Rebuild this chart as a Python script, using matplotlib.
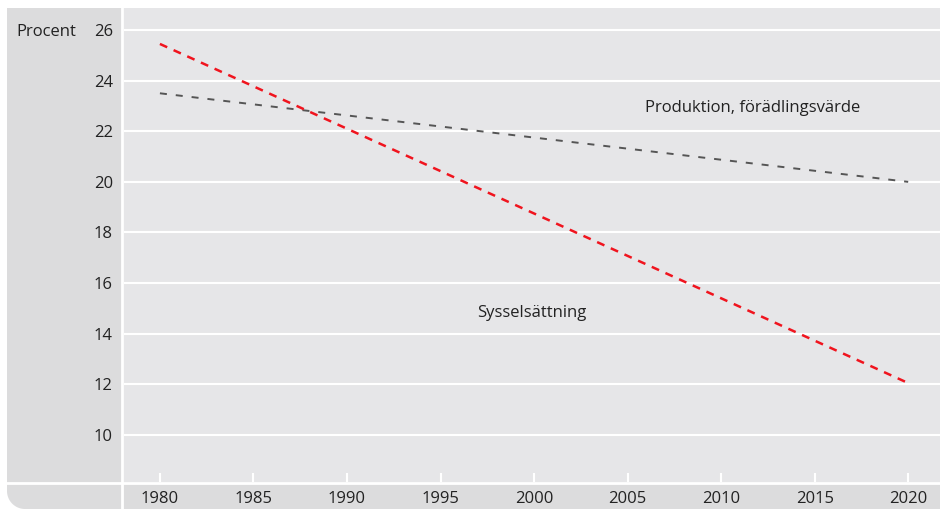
import numpy as np
import matplotlib.pyplot as plt
from matplotlib.patches import PathPatch
from matplotlib.path import Path
from matplotlib.lines import Line2D

plt.rcParams['font.family'] = ['Open Sans', 'DejaVu Sans']

years = [1980, 2020]
syssel = [25.45, 12.05]
produktion = [23.5, 20.0]
xticks = [1980, 1985, 1990, 1995, 2000, 2005, 2010, 2015, 2020]
yticks = [10, 12, 14, 16, 18, 20, 22, 24, 26]

W, H = 940, 509
fig = plt.figure(figsize=(W / 100, H / 100), dpi=100)

def fx(px):
    return px / W

def fy(py):
    return 1 - py / H

dark = '#dcdcdd'
light = '#e6e6e8'
txt = '#222222'

# background panel with rounded bottom-left corner (pixel coords, origin bottom-left)
r = 18
ang = np.linspace(np.pi, 1.5 * np.pi, 20)
corner = np.column_stack([7 + r + r * np.cos(ang), r + r * np.sin(ang)])
pts = np.vstack([[[7, H - 8]], corner, [[W + 5, 0], [W + 5, H - 8], [7, H - 8]]])
fig.patches.append(PathPatch(Path(pts), transform=None, facecolor=dark,
                             edgecolor='none', zorder=-2))

ax = fig.add_axes([fx(124), fy(482), fx(940 - 124), (482 - 8) / H])
ax.set_facecolor(light)
for s in ax.spines.values():
    s.set_visible(False)

ax.plot(years, produktion, color='#555555', lw=1.4, dashes=(3.6, 4.6), zorder=3)
ax.plot(years, syssel, color='#f0141e', lw=1.8, dashes=(3.2, 2.8), zorder=4)

ax.set_xlim(1978.08, 2021.7)
ax.set_ylim(8.14, 26.87)
ax.set_yticks(yticks)
ax.set_xticks(xticks)
ax.grid(axis='y', color='white', lw=1.5)
ax.set_axisbelow(True)
ax.tick_params(axis='y', length=0, pad=8, labelsize=12, labelcolor=txt)
ax.tick_params(axis='x', direction='in', length=6.5, width=1.5, color='white',
               pad=6.5, labelsize=12, labelcolor=txt)

fig.text(fx(16), fy(32), 'Procent', fontsize=12, color=txt, va='center', ha='left')
ax.text(2011.66, 22.92, 'Produktion, förädlingsvärde', fontsize=12, color=txt,
        ha='center', va='center')
ax.text(1999.9, 14.8, 'Sysselsättning', fontsize=12, color=txt,
        ha='center', va='center')

# white separators
fig.add_artist(Line2D([fx(122), fx(122)], [fy(8), 0], transform=fig.transFigure,
                      color='white', lw=2))
fig.add_artist(Line2D([fx(7), 1], [fy(483), fy(483)], transform=fig.transFigure,
                      color='white', lw=2))

fig.savefig('out.png', dpi=100)
